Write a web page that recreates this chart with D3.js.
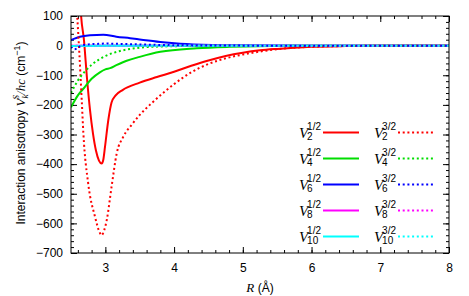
<!DOCTYPE html>
<html lang="en">
<head>
<meta charset="UTF-8">
<title>Interaction anisotropy</title>
<script src="https://d3js.org/d3.v7.min.js"></script>
<style>
  body { margin: 0; background: #fff; }
  text { font-family: "Liberation Sans", Arial, sans-serif; }
  .it { font-family: "Liberation Serif", serif; font-style: italic; }
</style>
</head>
<body>
<div id="chart"></div>
<script>
// R (Å) and V (cm^-1), one pair of arrays per curve
const r2a = [2.6, 2.645, 2.689, 2.733, 2.776, 2.82, 2.863, 2.907, 2.946, 2.97, 2.995, 3.043, 3.09, 3.15, 3.25, 3.5, 3.75, 4.0, 4.25, 4.5, 4.75, 5.0, 5.25, 5.5, 5.75, 6.0, 6.5, 7.0, 8.0];
const v2a = [340, 107, 18, -111, -216, -297, -354, -388, -398, -385, -341, -251, -192, -168, -150, -125, -106, -88, -68, -50, -35, -24, -16, -11, -7, -4, -1.5, -0.5, 0];
const r2b = [2.55, 2.59, 2.62, 2.656, 2.68, 2.75, 2.85, 2.92, 2.946, 2.98, 3.02, 3.09, 3.165, 3.26, 3.38, 3.5, 3.67, 3.84, 4.0, 4.25, 4.5, 4.75, 5.0, 5.25, 5.5, 5.75, 6.0, 6.5, 7.0, 8.0];
const v2b = [220, 100, -20, -184, -296, -465, -578, -632, -640, -625, -589, -477, -364, -308, -268, -234, -195, -160, -130, -90, -62, -43, -30, -20, -12, -7, -4, -1.5, -0.5, 0];
const r4a = [2.5, 2.6, 2.7, 2.8, 2.92, 3.0, 3.07, 3.16, 3.31, 3.5, 3.8, 4.33, 4.81, 5.5, 6.0, 8.0];
const v4a = [-208, -168, -140, -112, -90, -80, -76, -66, -51, -38, -21, -9, -4, -1, 0, 0];
const r4b = [2.5, 2.6, 2.7, 2.8, 2.9, 3.0, 3.2, 3.4, 3.6, 4.0, 4.5, 5.0, 8.0];
const v4b = [-160, -118, -88, -65, -48, -35, -19, -10, -5, -2, -0.5, 0, 0];
const r6a = [2.5, 2.63, 2.776, 2.97, 3.16, 3.36, 3.5, 3.84, 4.09, 4.57, 5.0, 6.0, 8.0];
const v6a = [19, 30, 35, 37, 30, 25, 21, 11, 6, 2, 1, 0, 0];
const r6b = [2.5, 2.55, 2.6, 2.65, 2.75, 2.9, 3.0, 3.2, 3.5, 4.0, 4.5, 5.0, 8.0];
const v6b = [-3, -12, -8, 0, 4, 6, 7, 6, 4, 1.5, 0.5, 0, 0];
const r8 = [2.5, 3.0, 4.0, 8.0];
const v8a = [0, 0, 0, 0];
const v8b = [0, 0, 0, 0];
const r10 = [2.5, 2.8, 3.2, 4.0, 8.0];
const v10a = [-1.5, -1, -0.5, 0, 0];
const v10b = [-1, -0.5, 0, 0, 0];

const ks = ["2", "4", "6", "8", "10"];
const colors = ["#ff0000", "#00dd00", "#0000ff", "#ff00ff", "#00ffff"];
const xTicks = [3, 4, 5, 6, 7, 8];
const yTicks = [100, 0, -100, -200, -300, -400, -500, -600, -700];

const W = 469, H = 296;
const margin = { top: 16, right: 20, bottom: 43, left: 71 };
const width = W - margin.left - margin.right;
const height = H - margin.top - margin.bottom;

const svg = d3.select("#chart").append("svg")
    .attr("width", W).attr("height", H);
const g = svg.append("g").attr("transform", `translate(${margin.left},${margin.top})`);

const x = d3.scaleLinear().domain([2.5, 8]).range([0, width]);
const y = d3.scaleLinear().domain([-700, 100]).range([height, 0]);

g.append("clipPath").attr("id", "clip")
  .append("rect").attr("width", width).attr("height", height);

// ticks: inward, mirrored on all four sides
const xMinor = d3.range(2.6, 8.001, 0.2);
const yMinor = d3.range(-700, 100.1, 20);
function tickStyle(sel) {
  sel.select(".domain").remove();
  sel.selectAll("line").attr("stroke", "#000");
  sel.selectAll("text").attr("font-size", 12).attr("fill", "#000");
}
g.append("g").attr("transform", `translate(0,${height})`)
  .call(d3.axisBottom(x).tickValues(xMinor).tickSize(-3).tickFormat(""))
  .call(tickStyle);
g.append("g").attr("transform", `translate(0,${height})`)
  .call(d3.axisBottom(x).tickValues(xTicks).tickSize(-6).tickPadding(10.5).tickFormat(d3.format("d")))
  .call(tickStyle);
g.append("g")
  .call(d3.axisTop(x).tickValues(xMinor).tickSize(-3).tickFormat(""))
  .call(tickStyle);
g.append("g")
  .call(d3.axisTop(x).tickValues(xTicks).tickSize(-6).tickFormat(""))
  .call(tickStyle);
g.append("g")
  .call(d3.axisLeft(y).tickValues(yMinor).tickSize(-3).tickFormat(""))
  .call(tickStyle);
g.append("g")
  .call(d3.axisLeft(y).tickValues(yTicks).tickSize(-6).tickPadding(8).tickFormat(d3.format("d")))
  .call(tickStyle);
g.append("g").attr("transform", `translate(${width},0)`)
  .call(d3.axisRight(y).tickValues(yMinor).tickSize(-3).tickFormat(""))
  .call(tickStyle);
g.append("g").attr("transform", `translate(${width},0)`)
  .call(d3.axisRight(y).tickValues(yTicks).tickSize(-6).tickFormat(""))
  .call(tickStyle);

// curves
const line = d3.line().x(d => x(d[0])).y(d => y(d[1])).curve(d3.curveMonotoneX);
const series = [
  { r: r2a, v: v2a, c: 0, dot: false },
  { r: r4a, v: v4a, c: 1, dot: false },
  { r: r6a, v: v6a, c: 2, dot: false },
  { r: r8, v: v8a, c: 3, dot: false },
  { r: r10, v: v10a, c: 4, dot: false },
  { r: r2b, v: v2b, c: 0, dot: true },
  { r: r4b, v: v4b, c: 1, dot: true },
  { r: r6b, v: v6b, c: 2, dot: true },
  { r: r8, v: v8b, c: 3, dot: true },
  { r: r10, v: v10b, c: 4, dot: true }
];
const curves = g.append("g").attr("clip-path", "url(#clip)");
series.forEach(s => {
  curves.append("path")
    .datum(s.r.map((r, i) => [r, s.v[i]]))
    .attr("d", line)
    .attr("fill", "none")
    .attr("stroke", colors[s.c])
    .attr("stroke-width", 2)
    .attr("stroke-dasharray", s.dot ? "2,2.7" : null);
});

g.append("rect").attr("width", width).attr("height", height)
  .attr("fill", "none").attr("stroke", "#000").attr("stroke-width", 1);

// legend
const leg = svg.append("g");
const rowY = d3.range(5).map(i => 132.5 + i * 26);
const cols = [
  { x0: 323, x1: 359, sup: "1/2", dot: false },
  { x0: 398, x1: 433, sup: "3/2", dot: true }
];
cols.forEach(col => {
  ks.forEach((k, i) => {
    const yy = rowY[i];
    leg.append("line")
      .attr("x1", col.x0).attr("x2", col.x1).attr("y1", yy).attr("y2", yy)
      .attr("stroke", colors[i]).attr("stroke-width", 2)
      .attr("stroke-dasharray", col.dot ? "2,2.7" : null);
    const sx = col.x0 - 2;
    const sup = leg.append("text").attr("y", yy - 2.5).attr("font-size", 10).text(col.sup);
    const w = sup.node().getComputedTextLength();
    sup.attr("x", sx - w);
    leg.append("text").attr("x", sx - w).attr("y", yy + 7.5).attr("font-size", 10).text(k);
    leg.append("text").attr("class", "it").attr("x", sx - w + 1).attr("y", yy + 5)
      .attr("text-anchor", "end").attr("font-size", 15).text("V");
  });
});

// axis titles
const xt = svg.append("text").attr("x", margin.left + width / 2).attr("y", 292)
  .attr("text-anchor", "middle").attr("font-size", 12);
xt.append("tspan").attr("class", "it").attr("font-size", 13).text("R");
xt.append("tspan").text(" (Å)");

const yt = svg.append("text")
  .attr("transform", `translate(25,133) rotate(-90)`)
  .attr("text-anchor", "middle").attr("font-size", 12);
yt.append("tspan").text("Interaction anisotropy ");
yt.append("tspan").attr("class", "it").attr("font-size", 13).text("V");
yt.append("tspan").attr("class", "it").attr("font-size", 9).attr("dy", 3).text("k");
yt.append("tspan").attr("class", "it").attr("font-size", 9).attr("dx", -5).attr("dy", -9).text("S");
yt.append("tspan").attr("class", "it").attr("font-size", 13).attr("dy", 6).text("/hc");
yt.append("tspan").text(" (cm");
yt.append("tspan").attr("font-size", 9).attr("dy", -5).text("−1");
yt.append("tspan").attr("dy", 5).text(")");
</script>
</body>
</html>
